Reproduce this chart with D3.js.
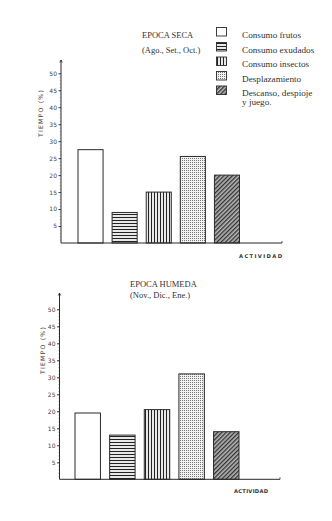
<!DOCTYPE html>
<html>
<head>
<meta charset="utf-8">
<script src="https://cdn.jsdelivr.net/npm/d3@7"></script>
<style>
  html, body { margin: 0; padding: 0; background: #ffffff; }
  svg { display: block; }
</style>
</head>
<body>
<svg id="chart" width="332" height="521"></svg>
<script>
// Activities (legend order) and the share of time spent on each, per season
const actividades = ["Consumo frutos", "Consumo exudados", "Consumo insectos", "Desplazamiento", "Descanso, despioje y juego."];
const valoresSeca = [27.5, 9, 15, 25.5, 20];
const valoresHumeda = [19.5, 13, 20.5, 31, 14];
const ticksTiempo = [5, 10, 15, 20, 25, 30, 35, 40, 45, 50];
const tituloSeca = ["EPOCA SECA", "(Ago., Set., Oct.)"];
const tituloHumeda = ["EPOCA HUMEDA", "(Nov., Dic., Ene.)"];

const svg = d3.select("#chart");
const ink = "#2a2a2a";
const serif = "'Liberation Serif', 'DejaVu Serif', serif";
const sans = "'DejaVu Sans', 'Liberation Sans', sans-serif";

// Fill patterns, one per activity
const defs = svg.append("defs");
const patIds = ["p-frutos", "p-exudados", "p-insectos", "p-desplaz", "p-descanso"];

defs.append("pattern").attr("id", patIds[0]).attr("patternUnits", "userSpaceOnUse")
  .attr("width", 4).attr("height", 4)
  .append("rect").attr("width", 4).attr("height", 4).attr("fill", "#fff");

const ph = defs.append("pattern").attr("id", patIds[1]).attr("patternUnits", "userSpaceOnUse")
  .attr("width", 4).attr("height", 3);
ph.append("rect").attr("width", 4).attr("height", 3).attr("fill", "#fff");
ph.append("rect").attr("y", 0.9).attr("width", 4).attr("height", 1.2).attr("fill", "#222");

const pv = defs.append("pattern").attr("id", patIds[2]).attr("patternUnits", "userSpaceOnUse")
  .attr("width", 3).attr("height", 4);
pv.append("rect").attr("width", 3).attr("height", 4).attr("fill", "#fff");
pv.append("rect").attr("x", 0.9).attr("width", 1.2).attr("height", 4).attr("fill", "#222");

const pd = defs.append("pattern").attr("id", patIds[3]).attr("patternUnits", "userSpaceOnUse")
  .attr("width", 2).attr("height", 2);
pd.append("rect").attr("width", 2).attr("height", 2).attr("fill", "#f2f2f2");
pd.append("rect").attr("width", 1).attr("height", 1).attr("fill", "#777");

const pg = defs.append("pattern").attr("id", patIds[4]).attr("patternUnits", "userSpaceOnUse")
  .attr("width", 3).attr("height", 3).attr("patternTransform", "rotate(45)");
pg.append("rect").attr("width", 3).attr("height", 3).attr("fill", "#b4b4b4");
pg.append("rect").attr("width", 1.3).attr("height", 3).attr("fill", "#333");

// Legend
const legendRows = [35, 50, 64.5, 79, 93.5];
const lg = svg.append("g");
actividades.forEach((a, i) => {
  lg.append("rect")
    .attr("x", 216.5).attr("y", legendRows[i] - 7.5)
    .attr("width", 10).attr("height", 8.5)
    .attr("fill", `url(#${patIds[i]})`)
    .attr("stroke", ink).attr("stroke-width", 0.9);
  const t = lg.append("text")
    .attr("x", 242).attr("y", legendRows[i] + 2.5)
    .attr("font-family", serif).attr("font-size", 9.2).attr("fill", "#333");
  if (a.startsWith("Descanso")) {
    t.append("tspan").attr("x", 242).text("Descanso, despioje");
    t.append("tspan").attr("x", 242).attr("dy", 9).text("y juego.");
  } else {
    t.text(a);
  }
});

function drawPanel(cfg) {
  const g = svg.append("g");
  const y = d3.scaleLinear().domain([0, 50]).range([cfg.base, cfg.top50]);
  const x = d3.scaleBand().domain(actividades).range(cfg.barRange)
    .paddingInner(0.265).paddingOuter(0);

  // Title
  cfg.title.forEach((s, i) => {
    g.append("text").attr("x", cfg.titleX).attr("y", cfg.titleY + i * cfg.titleGap)
      .attr("font-family", serif).attr("font-size", 8.5).attr("fill", "#333")
      .text(s);
  });

  // Bars
  g.selectAll("rect.bar").data(cfg.values).join("rect")
    .attr("class", "bar")
    .attr("x", (d, i) => x(actividades[i]))
    .attr("y", d => y(d))
    .attr("width", x.bandwidth())
    .attr("height", d => y(0) - y(d))
    .attr("fill", (d, i) => `url(#${patIds[i]})`)
    .attr("stroke", ink).attr("stroke-width", 1);

  // Minor ticks along the vertical axis
  g.append("g").attr("transform", `translate(${cfg.axisX},0)`)
    .call(d3.axisLeft(y).tickValues(d3.range(1, 51)).tickSize(1.2).tickFormat(""))
    .call(s => s.select(".domain").remove())
    .selectAll("line").attr("stroke", "#888").attr("stroke-width", 0.6);

  // Labelled ticks
  const ax = g.append("g").attr("transform", `translate(${cfg.axisX},0)`)
    .call(d3.axisLeft(y).tickValues(ticksTiempo).tickSize(2.5).tickPadding(1.5));
  ax.select(".domain").remove();
  ax.selectAll("line").attr("stroke", ink).attr("stroke-width", 0.9);
  ax.selectAll("text").attr("font-family", sans).attr("font-size", 6)
    .attr("fill", "#444");

  // Axis lines
  g.append("line").attr("x1", cfg.axisX).attr("x2", cfg.axisX)
    .attr("y1", y(0)).attr("y2", cfg.axisTop)
    .attr("stroke", ink).attr("stroke-width", 1);
  g.append("path")
    .attr("d", `M${cfg.axisX - 1.2},${cfg.axisTop + 2.5}L${cfg.axisX},${cfg.axisTop}L${cfg.axisX + 1.2},${cfg.axisTop + 2.5}`)
    .attr("fill", "none").attr("stroke", ink).attr("stroke-width", 0.8);
  g.append("line").attr("x1", cfg.axisX).attr("x2", cfg.axisEnd)
    .attr("y1", y(0)).attr("y2", y(0))
    .attr("stroke", ink).attr("stroke-width", 1);
  g.append("line").attr("x1", cfg.axisEnd).attr("x2", cfg.axisEnd)
    .attr("y1", y(0) - 2).attr("y2", y(0))
    .attr("stroke", ink).attr("stroke-width", 0.8);

  // Axis titles
  g.append("text")
    .attr("transform", `translate(${cfg.yLabelX},${cfg.yLabelY}) rotate(-90)`)
    .attr("text-anchor", "middle")
    .attr("font-family", sans).attr("font-size", 6.2).attr("fill", "#444")
    .attr("letter-spacing", 1.2)
    .text("TIEMPO  (%)");
  g.append("text")
    .attr("x", cfg.xLabelX).attr("y", cfg.xLabelY)
    .attr("font-family", sans).attr("font-size", 5.2).attr("font-weight", "bold")
    .attr("fill", "#333")
    .attr("textLength", cfg.xLabelW).attr("lengthAdjust", "spacing")
    .text("ACTIVIDAD");
}

drawPanel({
  values: valoresSeca, title: tituloSeca,
  titleX: 142, titleY: 38, titleGap: 15,
  base: 243, top50: 73.3, axisX: 61, axisTop: 60, axisEnd: 282,
  barRange: [78, 239.5],
  yLabelX: 43, yLabelY: 113,
  xLabelX: 239, xLabelY: 258, xLabelW: 43
});

drawPanel({
  values: valoresHumeda, title: tituloHumeda,
  titleX: 130, titleY: 287, titleGap: 10.5,
  base: 479.3, top50: 309.3, axisX: 59.5, axisTop: 293, axisEnd: 280,
  barRange: [75, 239],
  yLabelX: 45, yLabelY: 350,
  xLabelX: 234, xLabelY: 493, xLabelW: 34
});
</script>
</body>
</html>
